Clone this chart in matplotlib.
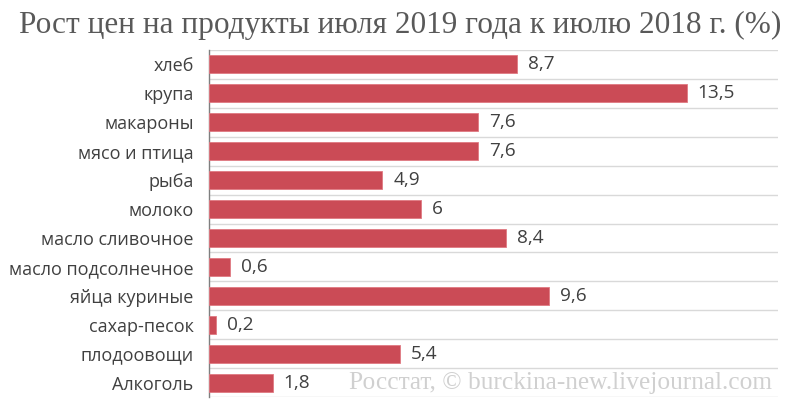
import matplotlib
matplotlib.use("Agg")
import matplotlib.pyplot as plt

categories = ["хлеб", "крупа", "макароны", "мясо и птица", "рыба", "молоко",
              "масло сливочное", "масло подсолнечное", "яйца куриные",
              "сахар-песок", "плодоовощи", "Алкоголь"]
values = [8.7, 13.5, 7.6, 7.6, 4.9, 6, 8.4, 0.6, 9.6, 0.2, 5.4, 1.8]
value_labels = ["8,7", "13,5", "7,6", "7,6", "4,9", "6", "8,4", "0,6", "9,6", "0,2", "5,4", "1,8"]
title = "Рост цен на продукты июля 2019 года к июлю 2018 г. (%)"
source = "Росстат, © burckina-new.livejournal.com"

fig = plt.figure(figsize=(8, 4.17), dpi=100)
ax = fig.add_axes([209/800, 1-397/417, (778-209)/800, (397-50)/417])

n = len(categories)
ypos = list(range(n))
ax.barh(ypos, values, height=0.62, color="#CB4B56", edgecolor="#E07A82", linewidth=0.6, zorder=3)
ax.set_ylim(n-0.5, -0.5)
ax.set_xlim(0, 16.08)

for b in [i+0.5 for i in range(-1, n)]:
    ax.axhline(b, color="#D9D9D9", linewidth=1.0, zorder=1)

for spine in ["top", "right", "bottom"]:
    ax.spines[spine].set_visible(False)
ax.spines["left"].set_color("#7F7F7F")
ax.spines["left"].set_linewidth(1.0)
ax.set_xticks([])
ax.set_yticks(ypos)
ax.set_yticklabels(categories, fontfamily="Open Sans", fontsize=13, color="#404040")
ax.tick_params(axis="y", length=0, pad=11)

for y, v, lab in zip(ypos, values, value_labels):
    ax.text(v + 0.31, y, lab, va="center", ha="left", fontfamily="Open Sans", fontsize=13.7, color="#404040")

fig.text(0.5, 1-25/417, title, ha="center", va="center", fontfamily="Liberation Serif",
         fontsize=22.5, color="#595959")
ax.text(0.99, 11, source, transform=ax.get_yaxis_transform(), ha="right", va="center",
        fontfamily="Liberation Serif", fontsize=18.3, color="#D0D0D0", zorder=4)

fig.savefig("out.png", dpi=100)
